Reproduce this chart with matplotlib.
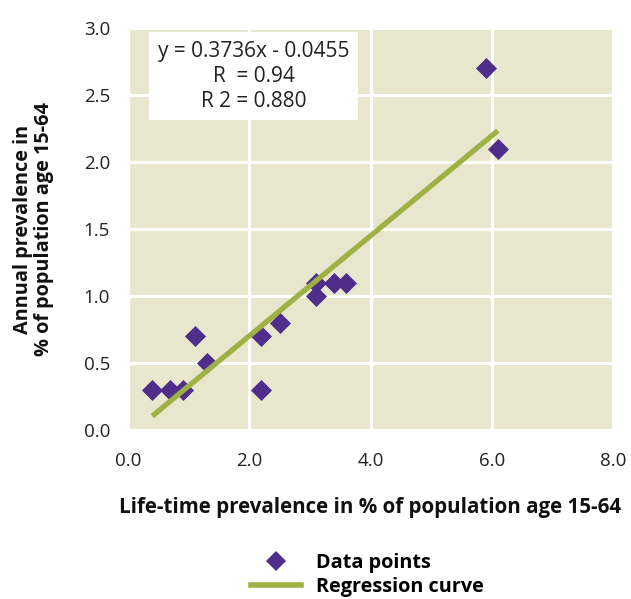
import matplotlib
matplotlib.use('Agg')
import matplotlib.pyplot as plt
import numpy as np
from matplotlib.lines import Line2D

plt.rcParams['font.family'] = ['Open Sans', 'DejaVu Sans']

# life-time prevalence (x) and annual prevalence (y), % of population 15-64
life_time = [0.4, 0.7, 0.9, 1.1, 1.3, 2.2, 2.2, 2.5, 3.1, 3.1, 3.4, 3.6, 5.9, 6.1]
annual = [0.3, 0.3, 0.3, 0.7, 0.5, 0.7, 0.3, 0.8, 1.1, 1.0, 1.1, 1.1, 2.7, 2.1]
slope = 0.3736
intercept = -0.0455
r_value = '0.94'
r2_value = '0.880'

bg = '#E8E7CE'
purple = '#4F2D8A'
green = '#9DB243'

fig = plt.figure(figsize=(6.31, 5.99), dpi=100)
ax = fig.add_axes([128/631, 1-430/599, (613-128)/631, (430-28)/599])
ax.set_facecolor(bg)
for s in ax.spines.values():
    s.set_visible(False)

ax.set_xlim(0, 8)
ax.set_ylim(0, 3)
ax.set_xticks([0, 2, 4, 6, 8])
ax.set_xticklabels(['0.0', '2.0', '4.0', '6.0', '8.0'])
ax.set_yticks([0, 0.5, 1, 1.5, 2, 2.5, 3])
ax.set_yticklabels(['0.0', '0.5', '1.0', '1.5', '2.0', '2.5', '3.0'])
ax.tick_params(length=0, labelsize=13.5, colors='#222222')
ax.tick_params(axis='x', pad=16)
ax.tick_params(axis='y', pad=13)
ax.grid(True, color='white', lw=2.2)
ax.set_axisbelow(True)

ax.scatter(life_time, annual, marker='D', s=115, color=purple, zorder=3, lw=0)

xr = np.array([min(life_time), max(life_time)])
ax.plot(xr, slope*xr + intercept, color=green, lw=3.8, zorder=4, solid_capstyle='butt')

ax.text(2.07, 2.64, 'y = %.4fx - %.4f\nR  = %s\nR 2 = %s' % (slope, -intercept, r_value, r2_value),
        ha='center', va='center', fontsize=15, color='#222222', linespacing=1.25,
        bbox=dict(boxstyle='square,pad=0.42', fc='white', ec='none'), zorder=5)

ax.set_xlabel('Life-time prevalence in % of population age 15-64', fontsize=14.8,
              fontweight='bold', labelpad=19, color='#111111')
ax.set_ylabel('Annual prevalence in\n% of population age 15-64', fontsize=14.3,
              fontweight='bold', labelpad=21, color='#111111', linespacing=1.1)

handles = [Line2D([], [], marker='D', ls='none', color=purple, ms=10, mew=0),
           Line2D([], [], color=green, lw=4)]
fig.legend(handles, ['Data points', 'Regression curve'], loc='upper left',
           bbox_to_anchor=(241/631, 1-543/599), frameon=False, borderpad=0,
           handlelength=2.5, handletextpad=0.8, labelspacing=0.22,
           prop={'weight': 'bold', 'size': 14.3})

fig.savefig('out.png', dpi=100)
